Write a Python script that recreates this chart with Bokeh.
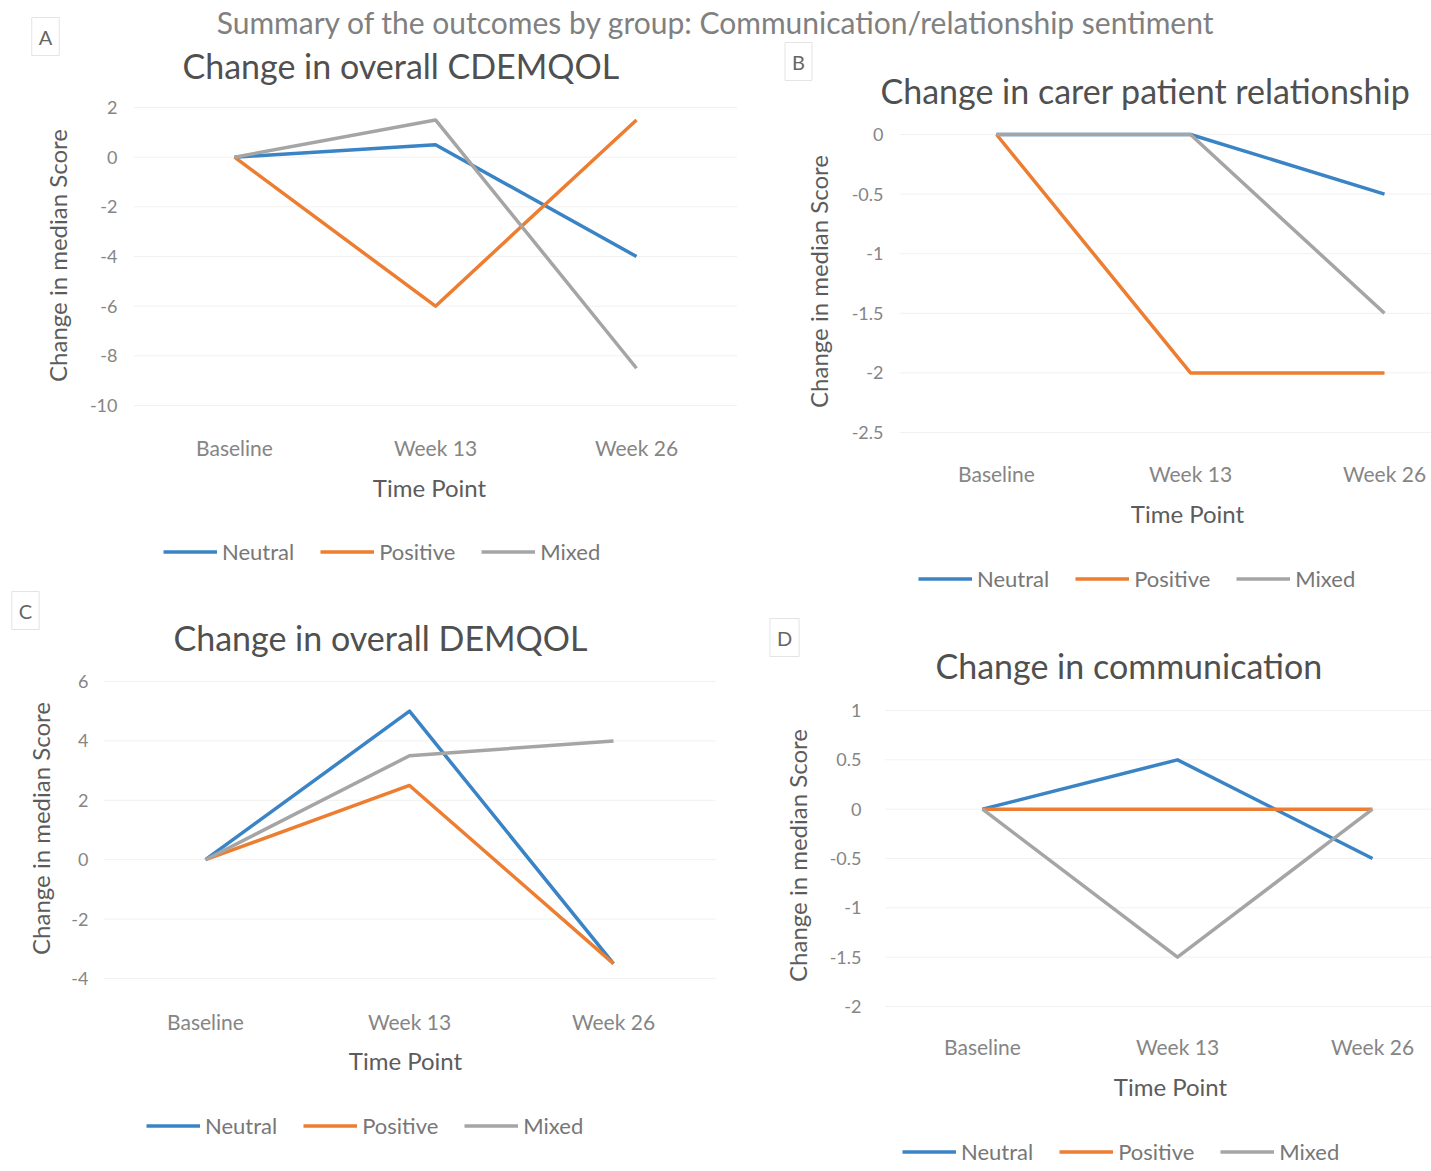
from math import pi

from bokeh.plotting import figure
from bokeh.models import Range1d, Label, Legend, LegendItem
from bokeh.core.properties import value
from bokeh.embed import file_html
from bokeh.resources import INLINE

# ---------------------------------------------------------------- data
time_points = ["Baseline", "Week 13", "Week 26"]
groups = ["Neutral", "Positive", "Mixed"]

cdemqol_neutral = [0, 0.5, -4]
cdemqol_positive = [0, -6, 1.5]
cdemqol_mixed = [0, 1.5, -8.5]

relationship_neutral = [0, 0, -0.5]
relationship_positive = [0, -2, -2]
relationship_mixed = [0, 0, -1.5]

demqol_neutral = [0, 5, -3.5]
demqol_positive = [0, 2.5, -3.5]
demqol_mixed = [0, 3.5, 4]

communication_neutral = [0, 0.5, -0.5]
communication_positive = [0, 0, 0]
communication_mixed = [0, -1.5, 0]

cdemqol_ticks = [-10, -8, -6, -4, -2, 0, 2]
relationship_ticks = [-2.5, -2, -1.5, -1, -0.5, 0]
demqol_ticks = [-4, -2, 0, 2, 4, 6]
communication_ticks = [-2, -1.5, -1, -0.5, 0, 0.5, 1]

# ---------------------------------------------------------------- styling
W, H = 1431, 1171
FONT = "Lato"
GROUP_COLORS = ["#3a84c6", "#ed7d31", "#a5a5a5"]
TITLE_COLOR = "#505050"
AXIS_TITLE_COLOR = "#5c5c5c"
TICK_COLOR = "#858585"
LEGEND_COLOR = "#777777"
GRID_COLOR = "#f1f1f1"

# Page layout of the four charts, in page pixels (origin top-left).
#   cat      : x of the first category and spacing between categories
#   tick_px  : y of the highest and lowest y tick
panels = [
    dict(key="A", title="Change in overall CDEMQOL",
         series=[cdemqol_neutral, cdemqol_positive, cdemqol_mixed],
         ticks=cdemqol_ticks, cat=(234, 201), tick_px=(107, 405),
         ytick_right=117, xtick_y=447, title_at=(182, 65),
         ylab_at=(57, 255), xlab_at=(429, 487), legend_at=(163, 552),
         letter_at=(45, 36)),
    dict(key="B", title="Change in carer patient relationship",
         series=[relationship_neutral, relationship_positive, relationship_mixed],
         ticks=relationship_ticks, cat=(996, 194), tick_px=(134, 432),
         ytick_right=883, xtick_y=473, title_at=(880, 90),
         ylab_at=(818, 281), xlab_at=(1187, 513), legend_at=(918, 579),
         letter_at=(798, 61)),
    dict(key="C", title="Change in overall DEMQOL",
         series=[demqol_neutral, demqol_positive, demqol_mixed],
         ticks=demqol_ticks, cat=(205, 204), tick_px=(681, 978),
         ytick_right=88, xtick_y=1021, title_at=(173, 637),
         ylab_at=(40, 828), xlab_at=(405, 1060), legend_at=(146, 1126),
         letter_at=(25, 610)),
    dict(key="D", title="Change in communication",
         series=[communication_neutral, communication_positive, communication_mixed],
         ticks=communication_ticks, cat=(982, 195), tick_px=(710, 1006),
         ytick_right=861, xtick_y=1046, title_at=(935, 665),
         ylab_at=(797, 855), xlab_at=(1170, 1086), legend_at=(902, 1152),
         letter_at=(784, 637)),
]

# One canvas for the whole page; the default ranges are page pixels
# (y pointing down) and every chart gets its own pair of value ranges.
p = figure(width=W, height=H, x_range=Range1d(0, W), y_range=Range1d(H, 0),
           x_axis_location=None, y_axis_location=None,
           output_backend="svg", toolbar_location=None, min_border=0)
p.grid.visible = False
p.outline_line_color = None
p.title.visible = False


def fmt(v):
    return f"{v:g}"


def add_text(x, y, text, size, color, align="center", angle=0.0, **kw):
    p.add_layout(Label(x=x, y=y, text=text, text_font=FONT,
                       text_font_size=size, text_color=color,
                       text_align=align, text_baseline="middle",
                       angle=angle, **kw))


for spec in panels:
    key = spec["key"]
    c0, step = spec["cat"]
    ticks = spec["ticks"]
    t_top, t_bot = spec["tick_px"]
    vmax, vmin = max(ticks), min(ticks)
    ppu = (t_bot - t_top) / (vmax - vmin)

    def to_x(px, c0=c0, step=step):
        return (px - c0) / step

    def to_y(py, vmax=vmax, t_top=t_top, ppu=ppu):
        return vmax - (py - t_top) / ppu

    # value ranges spanning the full page for this chart
    p.extra_x_ranges[key] = Range1d(to_x(0), to_x(W))
    p.extra_y_ranges[key] = Range1d(to_y(H), to_y(0))
    kw = dict(x_range_name=key, y_range_name=key)

    xs = list(range(len(time_points)))

    # horizontal gridlines at the value ticks
    p.segment(x0=[-0.5] * len(ticks), x1=[2.5] * len(ticks), y0=ticks,
              y1=ticks, line_color=GRID_COLOR, line_width=1, **kw)

    renderers = []
    for vals, col in zip(spec["series"], GROUP_COLORS):
        renderers.append(p.line(xs, vals, line_color=col, line_width=3.5,
                                line_join="round", **kw))

    # value tick labels
    p.text(x=[to_x(spec["ytick_right"])] * len(ticks), y=ticks,
           text=[fmt(t) for t in ticks], text_font=value(FONT),
           text_font_size="18px", text_color=TICK_COLOR,
           text_align="right", text_baseline="middle", **kw)
    # category labels
    p.text(x=xs, y=[to_y(spec["xtick_y"])] * len(xs), text=time_points,
           text_font=value(FONT), text_font_size="21px",
           text_color=TICK_COLOR, text_align="center",
           text_baseline="middle", **kw)

    # titles
    tx, ty = spec["title_at"]
    add_text(tx, ty, spec["title"], "34px", TITLE_COLOR, align="left")
    yx, yy = spec["ylab_at"]
    add_text(yx, yy, "Change in median Score", "24px", AXIS_TITLE_COLOR,
             angle=pi / 2)
    xx, xy = spec["xlab_at"]
    add_text(xx, xy, "Time Point", "24px", AXIS_TITLE_COLOR)
    lx, ly = spec["letter_at"]
    add_text(lx, ly, key, "20px", "#666666", border_line_color="#e4e4e4",
             background_fill_color="white", padding=7)

    # legend, located from the canvas' bottom-left corner
    gx, gy = spec["legend_at"]
    legend = Legend(items=[LegendItem(label=g, renderers=[r])
                           for g, r in zip(groups, renderers)],
                    orientation="horizontal",
                    location=(gx, H - gy - 12.5),
                    padding=0, margin=0, spacing=26,
                    glyph_width=54, glyph_height=25, label_height=25,
                    label_standoff=5, label_text_font=FONT,
                    label_text_font_size="22px",
                    label_text_color=LEGEND_COLOR,
                    border_line_color=None, background_fill_alpha=0)
    p.add_layout(legend, "center")

# heading across the top of the page
p.add_layout(Label(x=1215, y=21,
                   text="Summary of the outcomes by group: Communication/relationship sentiment",
                   text_align="right", text_baseline="alphabetic",
                   text_font=FONT, text_font_size="30px",
                   text_color="#808080"))

open("out.html", "w").write(file_html(p, INLINE))
